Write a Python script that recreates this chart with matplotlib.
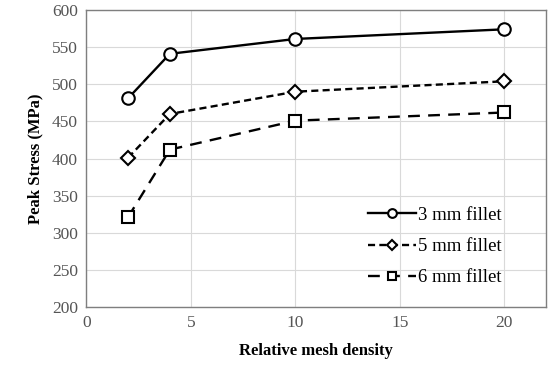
import matplotlib
matplotlib.use("Agg")
import matplotlib.pyplot as plt

plt.rcParams['font.family'] = ['Liberation Serif', 'DejaVu Serif']

density = [2, 4, 10, 20]
fillet_3mm = [481, 541, 561, 574]
fillet_5mm = [401, 460, 490, 504]
fillet_6mm = [321, 412, 451, 462]
labels = ["3 mm fillet", "5 mm fillet", "6 mm fillet"]

fig = plt.figure(figsize=(5.49, 3.70), dpi=100)
ax = fig.add_axes([0.157, 0.170, 0.838, 0.803])

ax.plot(density, fillet_3mm, color='black', lw=1.7, ls='-', marker='o',
        ms=9, mfc='white', mec='black', mew=1.5, label=labels[0])
ax.plot(density, fillet_5mm, color='black', lw=1.7, ls=(0, (3, 1.8)), marker='D',
        ms=7, mfc='white', mec='black', mew=1.5, label=labels[1])
ax.plot(density, fillet_6mm, color='black', lw=1.7, ls=(0, (5, 3.5)), marker='s',
        ms=9, mfc='white', mec='black', mew=1.5, label=labels[2])

ax.set_xlim(0, 22)
ax.set_ylim(200, 600)
ax.set_xticks([0, 5, 10, 15, 20])
ax.set_yticks(range(200, 601, 50))
ax.grid(True, color='#d9d9d9', lw=0.8)
ax.set_axisbelow(True)
for s in ax.spines.values():
    s.set_color('#7f7f7f')
    s.set_linewidth(1.0)
ax.tick_params(length=0, labelsize=12.5, colors='#555555', pad=6)

ax.set_xlabel('Relative mesh density', fontsize=12, fontweight='bold', labelpad=8)
ax.set_ylabel('Peak Stress (MPa)', fontsize=12, fontweight='bold', labelpad=6)

leg = ax.legend(loc='lower right', bbox_to_anchor=(0.94, 0.013), frameon=False,
                fontsize=13.5, handlelength=2.6, handletextpad=0.1,
                labelspacing=0.75, markerscale=0.7)

fig.savefig('out.png', dpi=100)
